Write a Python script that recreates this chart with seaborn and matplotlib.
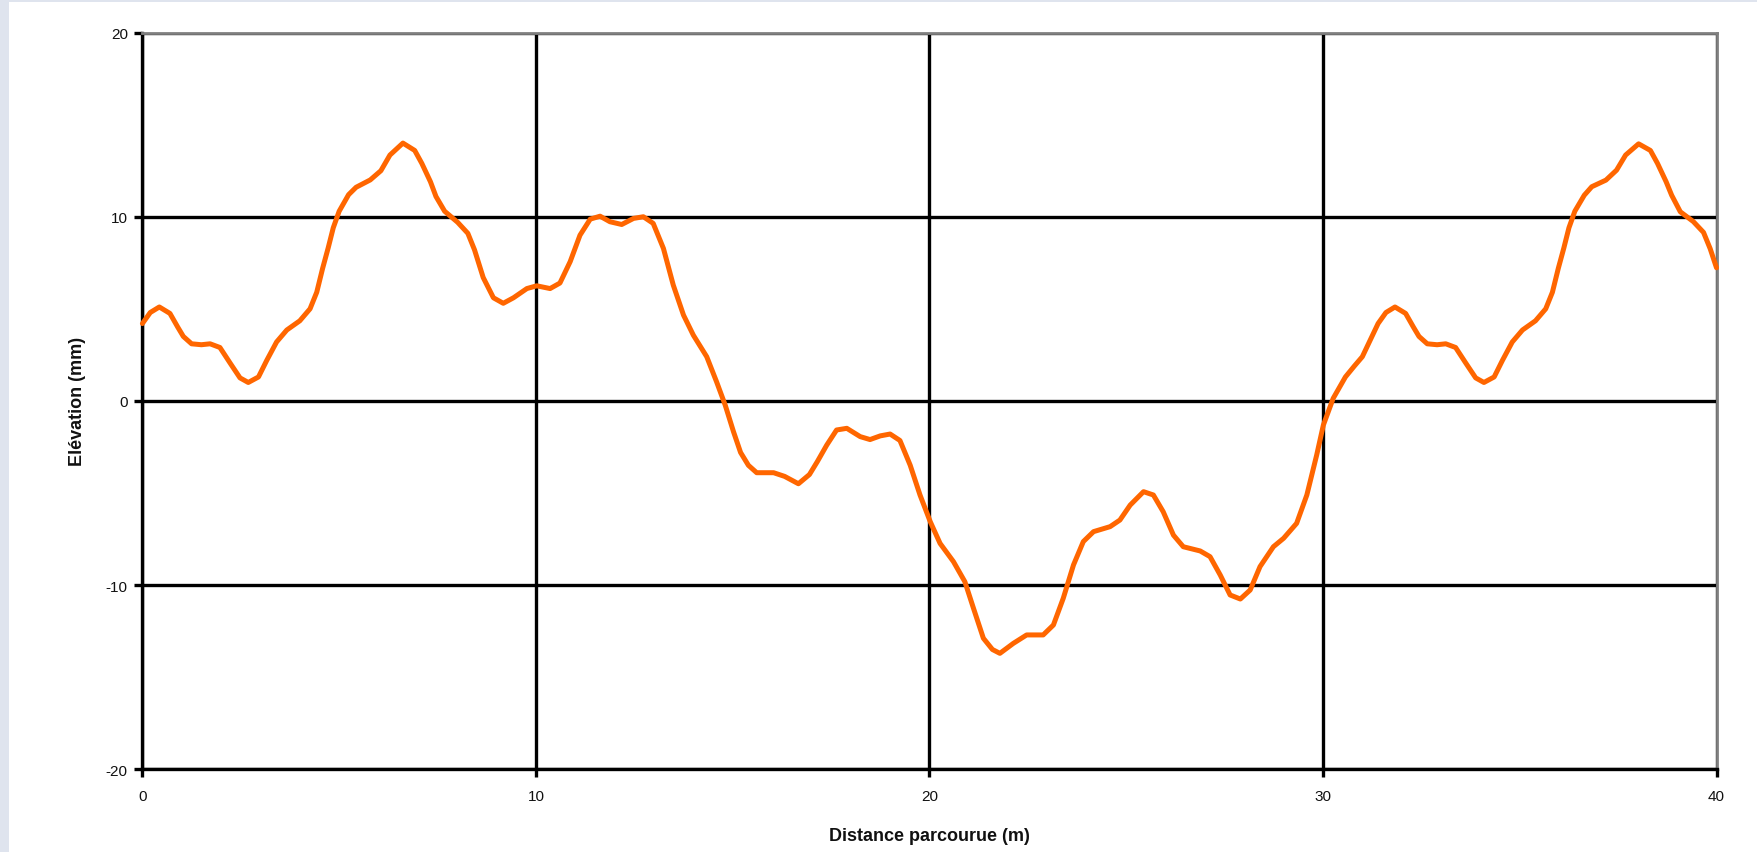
import matplotlib
matplotlib.use("Agg")
import matplotlib.pyplot as plt
from matplotlib.patches import Rectangle
import seaborn as sns
import pandas as pd

# Profile of the surface: distance travelled (m) and elevation (mm)
distance = [
    0.0, 0.2, 0.43, 0.7, 0.9, 1.04, 1.25, 1.5, 1.72, 1.97, 2.23, 2.48, 2.69, 2.95,
    3.16, 3.41, 3.67, 4.0, 4.26, 4.43, 4.58, 4.72, 4.85, 5.0, 5.24, 5.43, 5.79,
    6.06, 6.29, 6.62, 6.92, 7.1, 7.32, 7.46, 7.68, 8.01, 8.27, 8.44, 8.66, 8.92,
    9.17, 9.43, 9.77, 10.02, 10.36, 10.61, 10.87, 11.12, 11.38, 11.63, 11.88,
    12.18, 12.48, 12.73, 12.98, 13.24, 13.49, 13.75, 14.0, 14.34, 14.59, 14.81,
    15.02, 15.2, 15.4, 15.61, 16.04, 16.32, 16.67, 16.95, 17.15, 17.39, 17.64,
    17.9, 18.24, 18.49, 18.75, 19.0, 19.25, 19.51, 19.76, 20.02, 20.27, 20.61,
    20.9, 21.12, 21.37, 21.6, 21.79, 22.13, 22.47, 22.89, 23.15, 23.4, 23.66,
    23.91, 24.17, 24.59, 24.84, 25.1, 25.44, 25.69, 25.94, 26.2, 26.45, 26.88,
    27.13, 27.39, 27.64, 27.9, 28.15, 28.4, 28.74, 29.0, 29.33, 29.59, 29.84,
    30.01, 30.26, 30.57, 30.8, 31.0, 31.2, 31.4, 31.6, 31.83, 32.1, 32.3, 32.44,
    32.65, 32.9, 33.12, 33.37, 33.63, 33.88, 34.09, 34.35, 34.56, 34.81, 35.07,
    35.4, 35.66, 35.83, 35.98, 36.12, 36.25, 36.4, 36.64, 36.83, 37.19, 37.46,
    37.69, 38.02, 38.32, 38.5, 38.72, 38.86, 39.08, 39.41, 39.67, 39.84, 40.0,
]
elevation = [
    4.2, 4.8, 5.1, 4.75, 4.0, 3.5, 3.1, 3.05, 3.1, 2.9, 2.05, 1.25, 1.0, 1.3,
    2.2, 3.2, 3.85, 4.35, 5.0, 5.9, 7.2, 8.3, 9.4, 10.3, 11.2, 11.6, 12.0,
    12.5, 13.35, 14.0, 13.6, 12.9, 11.9, 11.1, 10.3, 9.7, 9.1, 8.2, 6.7, 5.6,
    5.3, 5.6, 6.1, 6.25, 6.1, 6.4, 7.56, 9.0, 9.87, 10.03, 9.73,
    9.58, 9.91, 10.0, 9.64, 8.28, 6.29, 4.66, 3.57, 2.4, 1.04, -0.23,
    -1.67, -2.8, -3.5, -3.9, -3.9, -4.1, -4.5, -4.0, -3.3, -2.4, -1.58,
    -1.49, -1.94, -2.1, -1.9, -1.8, -2.15, -3.49, -5.11, -6.56, -7.74, -8.73,
    -9.82, -11.27, -12.89, -13.5, -13.71, -13.17, -12.71, -12.71, -12.17, -10.72, -8.91,
    -7.64, -7.1, -6.83, -6.47, -5.66, -4.93, -5.11, -6.02, -7.29, -7.92, -8.15,
    -8.46, -9.46, -10.54, -10.76, -10.27, -9.0, -7.92, -7.46, -6.65, -5.11, -2.94,
    -1.31, 0.14, 1.3, 1.9, 2.4, 3.3, 4.2, 4.8, 5.1, 4.75, 4.0, 3.5,
    3.1, 3.05, 3.1, 2.9, 2.05, 1.25, 1.0, 1.3, 2.2, 3.2, 3.85,
    4.35, 5.0, 5.9, 7.2, 8.3, 9.4, 10.3, 11.17, 11.63, 11.99, 12.53,
    13.35, 13.96, 13.6, 12.9, 11.9, 11.17, 10.27, 9.74, 9.15, 8.26, 7.23,
]

x_ticks = [0, 10, 20, 30, 40]
y_ticks = [-20, -10, 0, 10, 20]
x_title = "Distance parcourue (m)"
y_title = "Elévation (mm)"

profile = pd.DataFrame({"distance": distance, "elevation": elevation})

sns.set_theme(style="white")
plt.rcParams["font.family"] = ["Liberation Sans", "DejaVu Sans"]

fig = plt.figure(figsize=(17.58, 8.53), dpi=100, facecolor="white")

# light slide backdrop visible along the left and top edges
backdrop = "#dfe4ee"
fig.patches.append(Rectangle((0, 0), 9 / 1758, 1, transform=fig.transFigure,
                             facecolor=backdrop, edgecolor="none", zorder=0))
fig.patches.append(Rectangle((0, 1 - 3 / 853), 1, 3 / 853, transform=fig.transFigure,
                             facecolor=backdrop, edgecolor="none", zorder=0))

ax = fig.add_axes([0.0810, 0.0971, 0.8954, 0.8635])
ax.set_facecolor("white")

sns.lineplot(data=profile, x="distance", y="elevation", ax=ax, color="#ff6600",
             linewidth=3.6, sort=False, estimator=None)
for line in ax.get_lines():
    line.set_solid_joinstyle("round")
    line.set_solid_capstyle("round")
    line.set_clip_on(False)
    line.set_zorder(3)

ax.set_xlim(0, 40)
ax.set_ylim(-20, 20)
ax.set_xticks(x_ticks)
ax.set_yticks(y_ticks)
ax.set_xticklabels([str(t) for t in x_ticks])
ax.set_yticklabels([str(t) for t in y_ticks])

ax.set_axisbelow(True)
ax.grid(True, color="black", linewidth=2.4)

for side in ("left", "bottom"):
    ax.spines[side].set_color("black")
    ax.spines[side].set_linewidth(2.4)
for side in ("top", "right"):
    ax.spines[side].set_color("#808080")
    ax.spines[side].set_linewidth(2.0)
    ax.spines[side].set_visible(True)

ax.tick_params(axis="both", which="major", direction="out", length=5.5, width=2.4,
               color="black", labelsize=11, labelcolor="#111111",
               bottom=True, left=True)
ax.tick_params(axis="x", pad=9)
ax.tick_params(axis="y", pad=5)

ax.set_xlabel(x_title, fontsize=13, fontweight="bold", color="#111111", labelpad=17)
ax.set_ylabel(y_title, fontsize=13, fontweight="bold", color="#111111", labelpad=14)

fig.savefig("out.png", dpi=100, facecolor=fig.get_facecolor())
